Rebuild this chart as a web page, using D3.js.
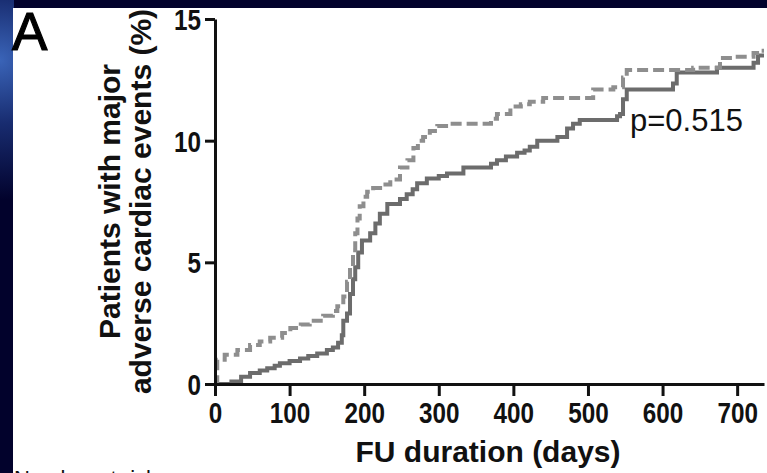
<!DOCTYPE html>
<html>
<head>
<meta charset="utf-8">
<script src="https://cdn.jsdelivr.net/npm/d3@7"></script>
<style>
  html, body { margin: 0; padding: 0; background: #02022c; }
  svg { display: block; font-family: "Liberation Sans", Arial, sans-serif; }
</style>
</head>
<body>
<div id="chart"></div>
<script>
// days / cumulative % of patients with MACE, two groups
var daysDashed = [0, 3, 13, 30, 47, 60, 74, 90, 101, 115, 127, 145, 158, 164, 172, 177, 181, 185, 188, 191, 194, 199, 204, 212, 225, 235, 248, 258, 266, 272, 279, 288, 298, 315, 360, 370, 378, 396, 410, 422, 440, 494, 507, 534, 547, 552, 619, 641, 677, 695, 722, 731, 736];
var pctDashed = [0, 1.0, 1.2, 1.4, 1.6, 1.75, 1.9, 2.1, 2.3, 2.45, 2.6, 2.8, 3.0, 3.2, 3.6, 4.2, 4.8, 5.5, 6.2, 6.8, 7.3, 7.7, 7.9, 8.05, 8.2, 8.4, 8.9, 9.2, 9.7, 10.0, 10.15, 10.4, 10.6, 10.7, 10.7, 10.9, 11.1, 11.4, 11.5, 11.6, 11.75, 11.75, 12.1, 12.2, 12.6, 12.9, 12.9, 13.0, 13.4, 13.45, 13.6, 13.7, 13.7];

var daysSolid = [0, 15, 22, 35, 47, 60, 70, 80, 87, 100, 114, 125, 137, 150, 158, 165, 170, 172, 177, 181, 185, 188, 192, 197, 208, 215, 221, 231, 248, 257, 265, 271, 284, 300, 311, 333, 360, 370, 378, 390, 405, 415, 422, 432, 459, 472, 480, 489, 534, 539, 543, 547, 552, 614, 619, 664, 673, 722, 728, 736];
var pctSolid = [0, 0, 0.1, 0.3, 0.45, 0.55, 0.65, 0.75, 0.85, 0.95, 1.05, 1.15, 1.25, 1.4, 1.5, 1.7, 2.0, 2.6, 2.9, 3.7, 4.3, 4.8, 5.4, 5.9, 6.2, 6.6, 7.0, 7.4, 7.6, 7.8, 8.0, 8.25, 8.45, 8.55, 8.65, 8.9, 8.9, 9.05, 9.2, 9.35, 9.5, 9.6, 9.75, 10.0, 10.15, 10.5, 10.7, 10.85, 10.85, 11.0, 11.1, 11.7, 12.1, 12.35, 12.8, 12.8, 13.0, 13.2, 13.5, 13.5];

var xTicks = [0, 100, 200, 300, 400, 500, 600, 700];
var yTicks = [0, 5, 10, 15];
var pLabel = "p=0.515";

var W = 767, H = 473;

var svg = d3.select("#chart").append("svg")
  .attr("width", W)
  .attr("height", H);

// slide background
var defs = svg.append("defs");
var glow = defs.append("radialGradient")
  .attr("id", "glow")
  .attr("cx", 0).attr("cy", 60).attr("r", 140)
  .attr("gradientUnits", "userSpaceOnUse");
glow.append("stop").attr("offset", "0%").attr("stop-color", "#3a64b8");
glow.append("stop").attr("offset", "45%").attr("stop-color", "#182c70");
glow.append("stop").attr("offset", "100%").attr("stop-color", "#02022c");

svg.append("rect").attr("width", W).attr("height", H).attr("fill", "#02022c");
svg.append("rect").attr("x", 0).attr("y", 0).attr("width", 14).attr("height", H)
  .attr("fill", "url(#glow)");
svg.append("rect").attr("x", 13).attr("y", 8).attr("width", W - 13).attr("height", H - 8)
  .attr("fill", "#ffffff");

var x = d3.scaleLinear().domain([0, 736]).range([215, 764]);
var y = d3.scaleLinear().domain([0, 15]).range([384, 19]);

// curves
var line = d3.line()
  .x(function (d) { return x(d[0]); })
  .y(function (d) { return y(d[1]); })
  .curve(d3.curveStepAfter);

svg.append("path")
  .datum(d3.zip(daysSolid, pctSolid))
  .attr("d", line)
  .attr("fill", "none")
  .attr("stroke", "#6c6c6c")
  .attr("stroke-width", 4);

svg.append("path")
  .datum(d3.zip(daysDashed, pctDashed))
  .attr("d", line)
  .attr("fill", "none")
  .attr("stroke", "#8e8e8e")
  .attr("stroke-width", 4)
  .attr("stroke-dasharray", "11,5");

// axes
var xAxis = d3.axisBottom(x).tickValues(xTicks).tickSize(12).tickPadding(6).tickSizeOuter(0);
var yAxis = d3.axisLeft(y).tickValues(yTicks).tickSize(10).tickPadding(4).tickSizeOuter(0);

var gx = svg.append("g")
  .attr("transform", "translate(0," + y(0) + ")")
  .call(xAxis);
var gy = svg.append("g")
  .attr("transform", "translate(" + x(0) + ",0)")
  .call(yAxis);

[gx, gy].forEach(function (g) {
  g.select(".domain").attr("stroke", "#111").attr("stroke-width", 3);
  g.selectAll(".tick line").attr("stroke", "#111").attr("stroke-width", 3);
  g.selectAll(".tick text")
    .attr("fill", "#111")
    .style("font-family", "'Liberation Sans', Arial, sans-serif")
    .style("font-weight", "bold")
    .style("font-size", "29px")
    .attr("lengthAdjust", "spacingAndGlyphs")
    .attr("textLength", function (d) { return String(d).length * 13.5; });
});
gx.selectAll(".tick text").attr("dy", "0.71em");
gy.selectAll(".tick text").attr("dy", "0.36em");

// axis titles
svg.append("text")
  .attr("x", 488)
  .attr("y", 462)
  .attr("text-anchor", "middle")
  .style("font-weight", "bold")
  .style("font-size", "30px")
  .attr("fill", "#111")
  .text("FU duration (days)");

var ylab = svg.append("text")
  .attr("transform", "translate(0," + (y(7.5)) + ") rotate(-90)")
  .attr("text-anchor", "middle")
  .style("font-weight", "bold")
  .style("font-size", "30px")
  .attr("fill", "#111");
ylab.append("tspan").attr("x", 0).attr("y", 120).text("Patients with major");
ylab.append("tspan").attr("x", 0).attr("y", 151).text("adverse cardiac events (%)");

// p value
svg.append("text")
  .attr("x", 630)
  .attr("y", 131)
  .style("font-size", "31px")
  .attr("fill", "#111")
  .text(pLabel);

// panel letter
svg.append("text")
  .attr("x", 12)
  .attr("y", 50)
  .style("font-size", "53px")
  .attr("fill", "#000")
  .attr("stroke", "#000")
  .attr("stroke-width", 1.2)
  .text("A");

// caption below, cut off by the slide edge as in the original
svg.append("text")
  .attr("x", 14)
  .attr("y", 486)
  .style("font-size", "22px")
  .attr("fill", "#111")
  .text("Number at risk");
</script>
</body>
</html>
